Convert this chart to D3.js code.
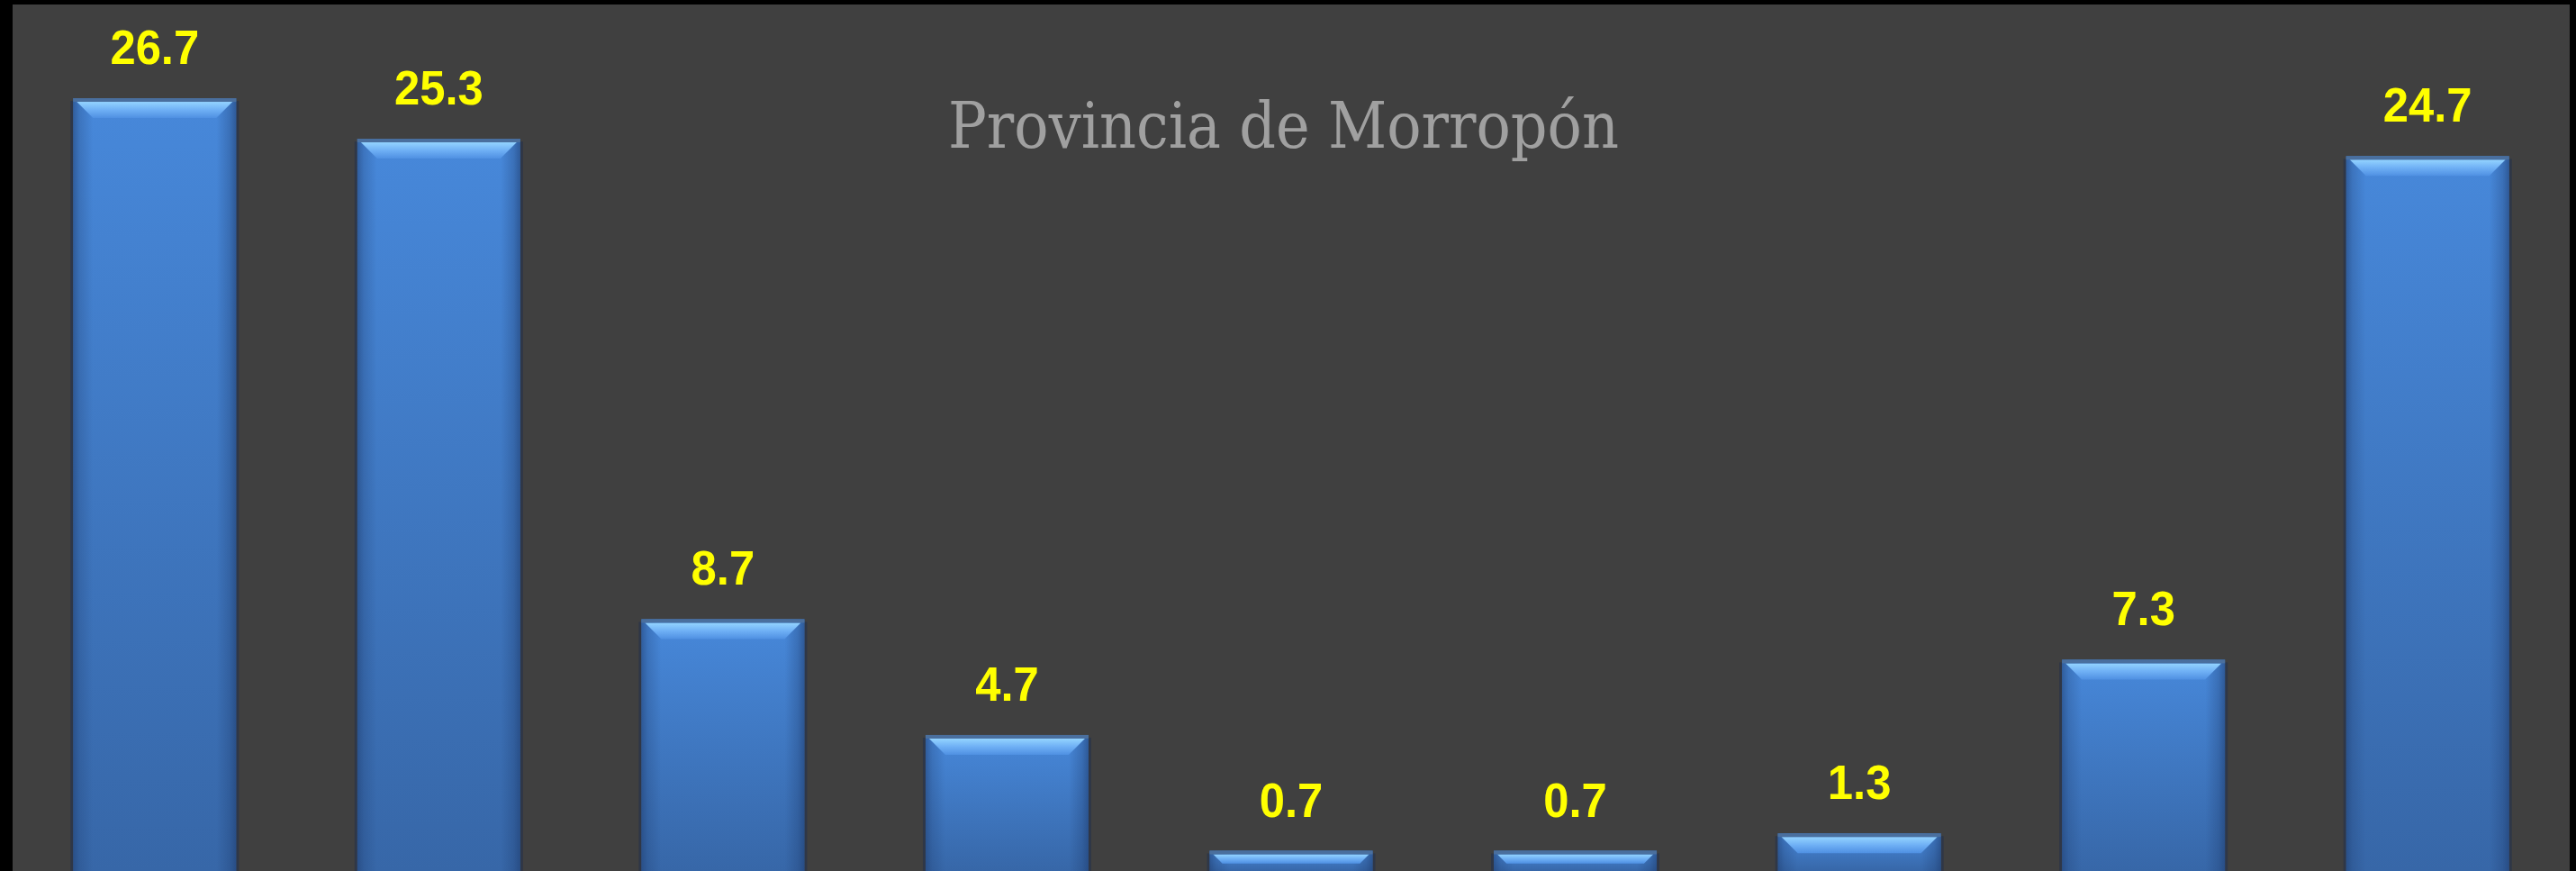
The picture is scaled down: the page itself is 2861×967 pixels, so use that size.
<!DOCTYPE html>
<html>
<head>
<meta charset="utf-8">
<script src="https://cdn.jsdelivr.net/npm/d3@7"></script>
<style>
  html, body { margin: 0; padding: 0; background: #000; overflow: hidden; }
  svg { display: block; }
</style>
</head>
<body>
<div id="chart"></div>
<script>
// Chart data (no category labels are visible in the picture)
const categories = ["1", "2", "3", "4", "5", "6", "7", "8", "9"];
const values = [26.7, 25.3, 8.7, 4.7, 0.7, 0.7, 1.3, 7.3, 24.7];
const title = "Provincia de Morropón";

const width = 2861, height = 967;

const svg = d3.select("#chart")
    .append("svg")
    .attr("width", width)
    .attr("height", height);

// black frame around the dark plot area
svg.append("rect")
    .attr("width", width).attr("height", height)
    .attr("fill", "#000");
svg.append("rect")
    .attr("x", 14).attr("y", 5)
    .attr("width", 2854 - 14).attr("height", height - 5)
    .attr("fill", "#404040");

const x = d3.scaleBand()
    .domain(categories)
    .range([14, 2854])
    .paddingInner(0.4265)
    .paddingOuter(0.2133);

const y = d3.scaleLinear()
    .domain([0, 30])
    .range([967, 3]);

// gradients
const defs = svg.append("defs");

const body = defs.append("linearGradient")
    .attr("id", "barBody")
    .attr("x1", 0).attr("y1", 0).attr("x2", 0).attr("y2", 1);
body.append("stop").attr("offset", "0%").attr("stop-color", "#4788da");
body.append("stop").attr("offset", "100%").attr("stop-color", "#3767a8");

const sides = defs.append("linearGradient")
    .attr("id", "barSides")
    .attr("x1", 0).attr("y1", 0).attr("x2", 1).attr("y2", 0);
sides.append("stop").attr("offset", "0%").attr("stop-color", "#1e3c6e").attr("stop-opacity", 0.55);
sides.append("stop").attr("offset", "4%").attr("stop-color", "#1e3c6e").attr("stop-opacity", 0.25);
sides.append("stop").attr("offset", "12%").attr("stop-color", "#1e3c6e").attr("stop-opacity", 0);
sides.append("stop").attr("offset", "88%").attr("stop-color", "#1e3c6e").attr("stop-opacity", 0);
sides.append("stop").attr("offset", "96%").attr("stop-color", "#1e3c6e").attr("stop-opacity", 0.3);
sides.append("stop").attr("offset", "100%").attr("stop-color", "#1e3c6e").attr("stop-opacity", 0.6);

const bevel = defs.append("linearGradient")
    .attr("id", "barBevel")
    .attr("x1", 0).attr("y1", 0).attr("x2", 0).attr("y2", 1);
bevel.append("stop").attr("offset", "0%").attr("stop-color", "#94d4ff");
bevel.append("stop").attr("offset", "50%").attr("stop-color", "#6fb0f5");
bevel.append("stop").attr("offset", "100%").attr("stop-color", "#4f90e2");

const bars = svg.selectAll("g.bar")
    .data(values)
    .enter().append("g")
    .attr("class", "bar");

const bw = x.bandwidth();

// soft shadow around each bar
bars.append("rect")
    .attr("x", (d, i) => x(categories[i]) - 3)
    .attr("y", d => y(d) + 3)
    .attr("width", bw + 6)
    .attr("height", d => y(0) - y(d))
    .attr("fill", "#2a3548")
    .attr("opacity", 0.8);

bars.append("rect")
    .attr("x", (d, i) => x(categories[i]))
    .attr("y", d => y(d))
    .attr("width", bw)
    .attr("height", d => y(0) - y(d))
    .attr("fill", "url(#barBody)");

bars.append("rect")
    .attr("x", (d, i) => x(categories[i]))
    .attr("y", d => y(d))
    .attr("width", bw)
    .attr("height", d => y(0) - y(d))
    .attr("fill", "url(#barSides)");

// top bevel
bars.append("path")
    .attr("fill", "url(#barBevel)")
    .attr("d", (d, i) => {
        const x0 = x(categories[i]) + 4, x1 = x(categories[i]) + bw - 4;
        const t = y(d) + 4;
        const b = Math.min(18, (y(0) - y(d)) * 0.45);
        return `M${x0},${t}L${x1},${t}L${x1 - b},${t + b}L${x0 + b},${t + b}Z`;
    });

// top edge line
bars.append("rect")
    .attr("x", (d, i) => x(categories[i]))
    .attr("y", d => y(d))
    .attr("width", bw)
    .attr("height", 4)
    .attr("fill", "#4a6f9e");

// value labels
bars.append("text")
    .attr("transform", (d, i) =>
        `translate(${x(categories[i]) + bw / 2},${y(d) - 38}) scale(0.94,1)`)
    .attr("text-anchor", "middle")
    .attr("font-family", "Liberation Sans, Arial, sans-serif")
    .attr("font-weight", "bold")
    .attr("font-size", 54)
    .attr("fill", "#ffff00")
    .text(d => d.toFixed(1));

// title
svg.append("text")
    .attr("x", 1053)
    .attr("y", 164)
    .attr("textLength", 745)
    .attr("lengthAdjust", "spacingAndGlyphs")
    .attr("font-family", "DejaVu Serif, Liberation Serif, serif")
    .attr("font-size", 71)
    .attr("fill", "#a0a0a0")
    .text(title);
</script>
</body>
</html>
